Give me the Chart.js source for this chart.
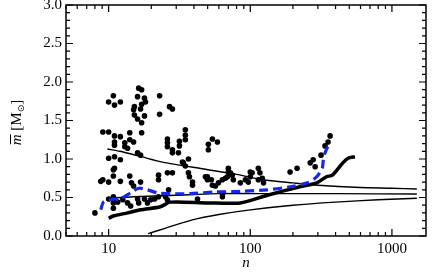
<!DOCTYPE html>
<html>
<head>
<meta charset="utf-8">
<script src="https://cdn.jsdelivr.net/npm/chart.js@4/dist/chart.umd.min.js"></script>
<style>
  html, body { margin: 0; padding: 0; background: #fff; }
</style>
</head>
<body>
<canvas id="myChart" width="436" height="275"></canvas>
<script>
// scattered systems: n and mean mass
const dotN = [
  10.8, 10, 11.0, 12.1,
  16.3, 17.1, 16.0, 17.9, 18.2, 17.1, 15.2, 15.0, 16.8, 15.2, 17.9, 16.0, 17.1,
  22.9, 22.9, 26.9, 28.2,
  9.1, 10, 11.0, 12.1, 11.0, 11.0, 13.0, 13.0, 14.1, 14.1, 15.0, 13.6, 17.1, 16.0, 16.8,
  10, 11.0, 12.1, 11.0,
  26.0, 26.0, 26.0, 28.2, 28.2, 31.6, 31.6, 31.1, 34.8, 34.8, 34.8, 33.2, 36.6, 34.8,
  50.6, 50.6, 54.0, 58.6,
  8.8, 9.1, 10, 10.8, 10.8, 12.1, 14.1, 14.5, 15.0, 16.8,
  22.5, 22.5, 26.0, 28.2, 33.7, 36.6, 37.2, 39.1, 39.1, 48.2, 53.1, 54.0, 56.7,
  8.0, 10, 10.8, 11.0, 12.6, 10.8, 13.6, 16.0, 16.3, 14.3, 11.6, 10.8, 17.9, 18.8, 19.8,
  21.1, 22.5, 25.2, 26.0, 26.5, 42.4, 63.6, 63.6,
  49.8, 49.8, 63.6, 59.6, 70.0, 70.0, 74.6, 68.9, 75.9, 85.1, 100, 100, 96.8, 114, 117,
  121.5, 72.3, 66.7, 103, 92.3, 114, 124,
  191, 214, 265, 278, 287, 316, 337, 354, 366
];
const dotM = [
  1.82, 1.74, 1.70, 1.74,
  1.92, 1.90, 1.81, 1.79, 1.74, 1.71, 1.68, 1.64, 1.65, 1.57, 1.56, 1.52, 1.47,
  1.82, 1.58, 1.68, 1.65,
  1.35, 1.35, 1.30, 1.29, 1.22, 1.18, 1.21, 1.16, 1.34, 1.25, 1.22, 1.14, 1.34, 1.08, 1.05,
  1.01, 1.03, 0.99, 0.88,
  1.26, 1.21, 1.16, 1.12, 1.08, 1.23, 1.17, 1.08, 1.38, 1.31, 1.25, 0.96, 1.00, 0.91,
  1.19, 1.12, 1.26, 1.22,
  0.71, 0.73, 0.70, 0.78, 0.86, 0.71, 0.78, 0.69, 0.65, 0.70,
  0.79, 0.73, 0.82, 0.82, 0.95, 0.82, 0.77, 0.70, 0.66, 0.77, 0.73, 0.66, 0.65,
  0.30, 0.48, 0.51, 0.47, 0.47, 0.43, 0.43, 0.48, 0.43, 0.39, 0.44, 0.36, 0.48, 0.43, 0.47,
  0.48, 0.51, 0.51, 0.47, 0.60, 0.48, 0.51, 0.55,
  0.77, 0.73, 0.73, 0.69, 0.88, 0.83, 0.79, 0.77, 0.73, 0.69, 0.83, 0.77, 0.70, 0.88, 0.82,
  0.75, 0.82, 0.75, 0.82, 0.73, 0.73, 0.69,
  0.83, 0.88, 0.95, 0.99, 0.90, 1.05, 1.17, 1.22, 1.30
];

// thin model curves
const upperN = [9.8, 12, 17, 24, 47, 80, 123, 200, 300, 600, 1000, 1500];
const upperM = [1.13, 1.10, 1.03, 0.96, 0.87, 0.80, 0.73, 0.69, 0.66, 0.63, 0.62, 0.61];
const middleN = [9.8, 15, 30, 60, 150, 400, 1500];
const middleM = [0.49, 0.51, 0.53, 0.55, 0.55, 0.55, 0.545];
const lowerN = [19, 25, 39, 60, 100, 200, 400, 800, 1500];
const lowerM = [0.03, 0.10, 0.21, 0.28, 0.34, 0.40, 0.44, 0.47, 0.49];

// thick black curve
const thickN = [10, 10.8, 13.6, 16.8, 23.2, 27.3, 50, 85, 132, 224, 295, 345, 380, 450, 490, 548];
const thickM = [0.23, 0.26, 0.30, 0.34, 0.38, 0.44, 0.43, 0.43, 0.53, 0.64, 0.69, 0.77, 0.79, 0.95, 1.01, 1.03];

// blue dashed curve
const blueN = [8.8, 9.2, 10.8, 12, 14.3, 16.3, 18.8, 22.1, 27.3, 37.8, 54.8, 85, 132, 191, 253, 295, 322, 328, 337, 354, 379];
const blueM = [0.34, 0.44, 0.48, 0.48, 0.56, 0.62, 0.60, 0.56, 0.55, 0.55, 0.57, 0.58, 0.60, 0.64, 0.69, 0.77, 0.88, 0.99, 1.08, 1.16, 1.19];

// axis ticks
const xMajor = [10, 100, 1000];
const xMinor = [5, 6, 7, 8, 9, 20, 30, 40, 50, 60, 70, 80, 90, 200, 300, 400, 500, 600, 700, 800, 900];
const yMajor = [0, 0.5, 1.0, 1.5, 2.0, 2.5, 3.0];
const yMinor = [];
for (let i = 1; i < 30; i += 1) {
  if (i % 5 !== 0) yMinor.push(i / 10);
}

const toPoints = (xs, ys) => xs.map((v, i) => ({ x: v, y: ys[i] }));

const serif = 'Liberation Serif, Times New Roman, serif';

const lineSet = (xs, ys, width, extra) => Object.assign({
  data: toPoints(xs, ys),
  showLine: true,
  borderColor: '#000',
  borderWidth: width,
  pointRadius: 0,
  tension: 0.25,
  fill: false,
}, extra);

const noOverhang = (scale) => {
  scale.paddingTop = 0;
  scale.paddingBottom = 0;
  scale.paddingLeft = 0;
  scale.paddingRight = 0;
};

// frame with inward ticks on all four sides, plus y title
const frameTicks = {
  id: 'frameTicks',
  afterDraw(chart) {
    const { ctx, chartArea: a, scales: { x, y } } = chart;
    ctx.save();
    ctx.strokeStyle = '#000';
    ctx.lineWidth = 1.5;
    ctx.strokeRect(a.left, a.top, a.right - a.left, a.bottom - a.top);
    ctx.lineWidth = 1.2;
    ctx.beginPath();
    const xTick = (v, len) => {
      const px = x.getPixelForValue(v);
      ctx.moveTo(px, a.bottom); ctx.lineTo(px, a.bottom - len);
      ctx.moveTo(px, a.top); ctx.lineTo(px, a.top + len);
    };
    const yTick = (v, len) => {
      const py = y.getPixelForValue(v);
      ctx.moveTo(a.left, py); ctx.lineTo(a.left + len, py);
      ctx.moveTo(a.right, py); ctx.lineTo(a.right - len, py);
    };
    xMajor.forEach((v) => xTick(v, 7));
    xMinor.forEach((v) => xTick(v, 4));
    yMajor.forEach((v) => yTick(v, 7));
    yMinor.forEach((v) => yTick(v, 4));
    ctx.stroke();

    // y title: m-bar [M_sun]
    ctx.translate(16, (a.top + a.bottom) / 2 + 2);
    ctx.rotate(-Math.PI / 2);
    ctx.fillStyle = '#000';
    ctx.textBaseline = 'alphabetic';
    ctx.textAlign = 'left';
    const fItal = 'italic 15px ' + serif;
    const fReg = '15px ' + serif;
    const fSub = '9px DejaVu Sans, sans-serif';
    ctx.font = fItal; const wm = ctx.measureText('m').width;
    ctx.font = fReg; const wa = ctx.measureText(' [M').width;
    ctx.font = fSub; const ws = ctx.measureText('\u2299').width;
    ctx.font = fReg; const wb = ctx.measureText(']').width;
    let cx = -(wm + wa + ws + wb) / 2;
    const base = 5;
    ctx.font = fItal; ctx.fillText('m', cx, base);
    ctx.lineWidth = 1;
    ctx.beginPath();
    ctx.moveTo(cx + 1, base - 10.5); ctx.lineTo(cx + wm, base - 10.5);
    ctx.stroke();
    cx += wm;
    ctx.font = fReg; ctx.fillText(' [M', cx, base); cx += wa;
    ctx.font = fSub; ctx.fillText('\u2299', cx, base + 3); cx += ws;
    ctx.font = fReg; ctx.fillText(']', cx, base);
    ctx.restore();
  },
};

const massChart = new Chart('myChart', {
  type: 'scatter',
  data: {
    datasets: [
      lineSet(blueN, blueM, 3.2, { borderColor: 'rgb(20,40,235)', borderDash: [9, 5], order: 0 }),
      lineSet(thickN, thickM, 3.5, { order: 1 }),
      lineSet(upperN, upperM, 1.4, { order: 2 }),
      lineSet(middleN, middleM, 1.4, { order: 2 }),
      lineSet(lowerN, lowerM, 1.4, { order: 2 }),
      {
        data: toPoints(dotN, dotM),
        backgroundColor: '#000',
        borderColor: '#000',
        pointRadius: 2.8,
        borderWidth: 0,
        order: 3,
      },
    ],
  },
  options: {
    responsive: false,
    animation: false,
    events: [],
    layout: { padding: { top: 5, right: 10, left: 0, bottom: 0 } },
    plugins: { legend: { display: false }, tooltip: { enabled: false } },
    scales: {
      x: {
        type: 'logarithmic',
        min: 5,
        max: 1740,
        afterFit: (scale) => { scale.height = 39; noOverhang(scale); },
        afterBuildTicks: (scale) => { scale.ticks = xMajor.map((v) => ({ value: v })); },
        grid: { display: false, drawTicks: false },
        border: { display: false },
        ticks: {
          color: '#000',
          padding: 4,
          autoSkip: false,
          maxRotation: 0,
          font: { family: serif, size: 15 },
          callback: (v) => String(v),
        },
        title: {
          display: true,
          text: 'n',
          color: '#000',
          padding: { top: 0, bottom: 3 },
          font: { family: serif, size: 15, style: 'italic' },
        },
      },
      y: {
        min: 0,
        max: 3,
        afterFit: (scale) => { scale.width = 66; noOverhang(scale); },
        afterBuildTicks: (scale) => { scale.ticks = yMajor.map((v) => ({ value: v })); },
        grid: { display: false, drawTicks: false },
        border: { display: false },
        ticks: {
          color: '#000',
          padding: 4,
          font: { family: serif, size: 15 },
          callback: (v) => Number(v).toFixed(1),
        },
      },
    },
  },
  plugins: [frameTicks],
});
</script>
</body>
</html>
